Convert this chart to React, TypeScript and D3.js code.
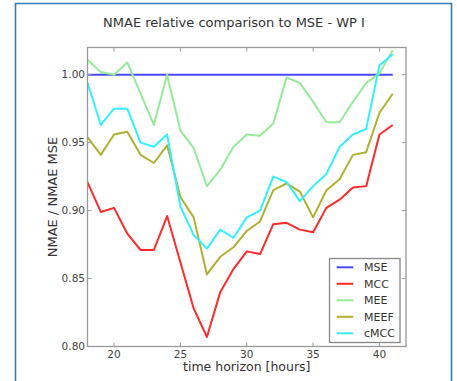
import React from "react";
import * as d3 from "d3";

const hours = [18, 19, 20, 21, 22, 23, 24, 25, 26, 27, 28, 29, 30, 31, 32, 33, 34, 35, 36, 37, 38, 39, 40, 41];
const mse = [1, 1, 1, 1, 1, 1, 1, 1, 1, 1, 1, 1, 1, 1, 1, 1, 1, 1, 1, 1, 1, 1, 1, 1];
const mcc = [0.921, 0.899, 0.902, 0.883, 0.871, 0.871, 0.896, 0.862, 0.828, 0.807, 0.840, 0.857, 0.870, 0.868, 0.890, 0.891, 0.886, 0.884, 0.902, 0.908, 0.917, 0.918, 0.956, 0.963];
const mee = [1.011, 1.002, 1.000, 1.009, 0.986, 0.963, 1.000, 0.959, 0.946, 0.918, 0.930, 0.947, 0.956, 0.955, 0.964, 0.998, 0.994, 0.980, 0.965, 0.965, 0.980, 0.994, 1.001, 1.018];
const meef = [0.954, 0.941, 0.956, 0.958, 0.941, 0.935, 0.948, 0.910, 0.895, 0.853, 0.866, 0.873, 0.885, 0.892, 0.915, 0.920, 0.914, 0.895, 0.915, 0.923, 0.941, 0.943, 0.972, 0.986];
const cmcc = [0.994, 0.963, 0.975, 0.975, 0.950, 0.947, 0.956, 0.903, 0.882, 0.872, 0.886, 0.880, 0.895, 0.900, 0.925, 0.921, 0.907, 0.918, 0.927, 0.947, 0.956, 0.960, 1.007, 1.015];

const seriesNames = ["MSE", "MCC", "MEE", "MEEF", "cMCC"];
const seriesValues = [mse, mcc, mee, meef, cmcc];
const seriesColors = ["#4a4aff", "#ff2a2a", "#95eb98", "#b0b030", "#33f0ff"];

const xTicks = [20, 25, 30, 35, 40];
const yTicks = [0.8, 0.85, 0.9, 0.95, 1.0];

const title = "NMAE relative comparison to MSE - WP I";
const xLabel = "time horizon [hours]";
const yLabel = "NMAE / NMAE MSE";

export default function App() {
  const W = 457, H = 381;
  const left = 87.5, right = 406, top = 47.5, bottom = 346.5;
  const x = d3.scaleLinear().domain([18, 42]).range([left, right]);
  const y = d3.scaleLinear().domain([0.8, 1.02]).range([bottom, top]);
  const line = d3.line<number>().x((_, i) => x(hours[i])).y((d) => y(d));
  const font = "DejaVu Sans, sans-serif";
  const lg = { x0: 329.5, y0: 258.5, w: 70.5, h: 84, y1: 267.3, dy: 16.5 };
  return (
    <svg width={W} height={H} style={{ position: "absolute", left: 0, top: 0, background: "#fff" }} fontFamily={font}>
      <rect x={0} y={0} width={W} height={H} fill="#fff" />
      <path d={`M15.5,${H + 2} V3.5 H451.5 V${H + 2}`} fill="none" stroke="#2f7db3" strokeWidth={1.6} />
      <text x={234} y={27} textAnchor="middle" fontSize={13} fill="#333">{title}</text>
      <defs>
        <clipPath id="pc"><rect x={left} y={top} width={right - left} height={bottom - top} /></clipPath>
      </defs>
      <g clipPath="url(#pc)">
        {seriesValues.map((vals, k) => (
          <path key={k} d={line(vals) || ""} fill="none" stroke={seriesColors[k]} strokeWidth={2} strokeLinejoin="round" />
        ))}
      </g>
      <rect x={left} y={top} width={right - left} height={bottom - top} fill="none" stroke="#999" strokeWidth={1.3} />
      {xTicks.map((t) => (
        <g key={"x" + t}>
          <line x1={x(t)} x2={x(t)} y1={bottom} y2={bottom - 4} stroke="#999" />
          <line x1={x(t)} x2={x(t)} y1={top} y2={top + 4} stroke="#999" />
          <text x={x(t)} y={357.5} textAnchor="middle" fontSize={10.5} fill="#444">{t}</text>
        </g>
      ))}
      {yTicks.map((t) => (
        <g key={"y" + t}>
          <line x1={left} x2={left + 4} y1={y(t)} y2={y(t)} stroke="#999" />
          <line x1={right} x2={right - 4} y1={y(t)} y2={y(t)} stroke="#999" />
          <text x={left - 2.5} y={y(t) + 3.8} textAnchor="end" fontSize={10.5} fill="#444">{t.toFixed(2)}</text>
        </g>
      ))}
      <text x={246.75} y={371} textAnchor="middle" fontSize={12.5} fill="#333">{xLabel}</text>
      <text transform={`translate(57,197) rotate(-90)`} textAnchor="middle" fontSize={13} fill="#333">{yLabel}</text>
      <rect x={lg.x0} y={lg.y0} width={lg.w} height={lg.h} fill="#fff" stroke="#888" strokeWidth={1.3} />
      {seriesNames.map((n, k) => (
        <g key={n}>
          <line x1={336.7} x2={353.3} y1={lg.y1 + k * lg.dy} y2={lg.y1 + k * lg.dy} stroke={seriesColors[k]} strokeWidth={2} />
          <text x={364} y={lg.y1 + k * lg.dy + 4} fontSize={11} fill="#333">{n}</text>
        </g>
      ))}
    </svg>
  );
}
